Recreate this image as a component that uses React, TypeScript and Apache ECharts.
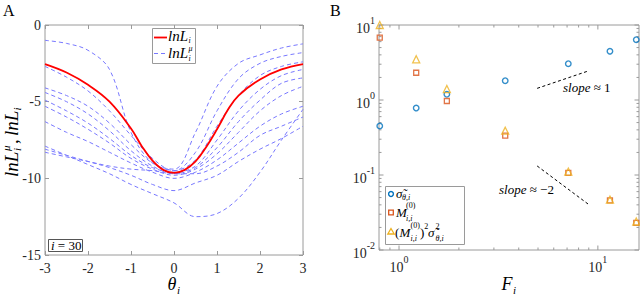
import React, { useEffect, useRef } from 'react';
import * as echarts from 'echarts';

// ---------- Panel A data ----------
const THETA = [-3, -2.5, -2, -1.5, -1, -0.5, 0, 0.5, 1, 1.5, 2, 2.5, 3];
const THETA_FINE = [-3, -2.5, -2, -1.5, -1, -0.75, -0.5, -0.25, 0, 0.25, 0.5, 0.75, 1, 1.25, 1.5, 2, 2.5, 3];
const LN_L = [-2.55, -3.1, -3.9, -5.0, -6.75, -7.9, -8.85, -9.45, -9.65, -9.45, -8.9, -7.95, -6.8, -5.55, -4.6, -3.55, -2.9, -2.55];
const LN_L_MU = [
  [-1.0, -1.2, -1.65, -2.9, -7.0, -9.0, -9.4, -7.0, -4.0, -2.5, -1.95, -1.5, -1.23],
  [-2.7, -3.4, -4.3, -5.6, -7.2, -8.7, -9.5, -8.8, -6.6, -4.6, -3.3, -2.7, -2.4],
  [-4.1, -4.6, -5.3, -6.4, -7.8, -9.0, -9.5, -8.3, -5.6, -3.5, -2.5, -2.05, -1.8],
  [-4.4, -5.0, -5.8, -6.9, -8.2, -9.2, -9.7, -9.3, -8.0, -6.3, -4.9, -3.8, -3.45],
  [-4.9, -5.6, -6.4, -7.4, -8.5, -9.3, -9.6, -9.2, -7.5, -5.6, -4.2, -3.3, -2.9],
  [-5.3, -6.0, -6.8, -7.7, -8.7, -9.4, -9.8, -9.4, -8.4, -7.0, -5.6, -4.6, -4.0],
  [-6.3, -7.0, -7.6, -8.3, -9.0, -9.6, -10.0, -9.6, -8.8, -7.7, -6.6, -5.8, -5.3],
  [-7.9, -8.5, -9.1, -9.7, -10.4, -11.0, -11.6, -12.5, -12.3, -11.3, -9.6, -7.5, -5.5],
  [-8.1, -8.5, -8.9, -9.3, -9.8, -10.4, -10.8, -10.3, -9.8, -8.9, -8.1, -7.4, -6.6],
  [-8.3, -8.6, -8.9, -9.2, -9.4, -9.5, -9.7, -9.7, -9.2, -8.3, -7.2, -6.6, -6.0],
];

// ---------- Panel B data ----------
const F = [0.8, 1.22, 1.74, 3.42, 7.1, 11.5, 15.6];
const SIGMA = [0.45, 0.78, 1.19, 1.81, 3.05, 4.46, 6.37];
const M00 = [6.78, 2.31, 0.97, 0.334, 0.107, 0.046, 0.023];
const PROD = [10, 3.49, 1.4, 0.39, 0.111, 0.047, 0.024];
const SLOPE1 = [[4.95, 1.43], [9.04, 2.46]];
const SLOPE2 = [[4.95, 0.132], [9.04, 0.04]];

const X_MIN = 0.793;
const X_MAX = 16.1;
const Y_MIN = 0.01;
const Y_MAX = 10;
const X_MAJOR = [1, 10];
const X_MINOR = [0.8, 0.9, 2, 3, 4, 5, 6, 7, 8, 9];
const Y_MAJOR = [0.01, 0.1, 1, 10];
const Y_MINOR = [0.02, 0.03, 0.04, 0.05, 0.06, 0.07, 0.08, 0.09, 0.2, 0.3, 0.4, 0.5, 0.6, 0.7, 0.8, 0.9, 2, 3, 4, 5, 6, 7, 8, 9];

const SERIF = 'Liberation Serif';
const AX = '#9a9a9a';
const TXT = '#262626';
const BLUE = '#7878ff';
const C1 = '#0072BD';
const C2 = '#D95319';
const C3 = '#EDB120';

const txt = (x: number, y: number, text: string, size: number, italic = false, extra: any = {}) => ({
  type: 'text',
  x,
  y,
  silent: true,
  style: {
    text,
    fontSize: size,
    fontFamily: SERIF,
    fontStyle: italic ? 'italic' : 'normal',
    fill: '#000',
    align: 'left',
    verticalAlign: 'middle',
    ...extra,
  },
});

const logFormatter = (v: number) => {
  const l = Math.log10(v);
  const e = Math.round(l);
  if (Math.abs(l - e) > 1e-6) return '';
  return `{b|10}{s|${e}}`;
};
const logRich = {
  b: { fontSize: 14, fontFamily: SERIF, color: TXT, lineHeight: 20, verticalAlign: 'bottom' },
  s: { fontSize: 10, fontFamily: SERIF, color: TXT, lineHeight: 12, verticalAlign: 'top' },
};

export default function App() {
  const ref = useRef<HTMLDivElement>(null);
  useEffect(() => {
    if (!ref.current) return;
    const chart = echarts.init(ref.current, undefined, { renderer: 'svg' });

    const linTick = { inside: true, length: 4, lineStyle: { color: AX } };
    const noLine = { show: false, onZero: false };
    const lab = { fontSize: 14, fontFamily: SERIF, color: TXT };

    const tickData = [
      ...X_MAJOR.map((v) => [v, Y_MIN, 1]),
      ...X_MINOR.map((v) => [v, Y_MIN, 0]),
    ];
    const yTickData = [
      ...Y_MAJOR.map((v) => [X_MIN, v, 1]),
      ...Y_MINOR.map((v) => [X_MIN, v, 0]),
    ];
    const scriptRich = (size: number) => ({
      it: { fontSize: size, fontFamily: SERIF, fontStyle: 'italic', fill: '#000' },
    });

    const option: any = {
      animation: false,
      backgroundColor: '#fff',
      textStyle: { fontFamily: SERIF },
      grid: [
        { left: 45, top: 25, width: 258, height: 230, show: true, borderColor: AX, borderWidth: 1 },
        { left: 379, top: 25, width: 260, height: 225, show: true, borderColor: AX, borderWidth: 1 },
      ],
      xAxis: [
        {
          gridIndex: 0, type: 'value', min: -3, max: 3, interval: 1,
          axisLine: noLine, axisTick: linTick, splitLine: { show: false },
          axisLabel: { ...lab, margin: 6 },
        },
        {
          gridIndex: 0, type: 'value', position: 'top', min: -3, max: 3, interval: 1,
          axisLine: noLine, axisTick: linTick, splitLine: { show: false },
          axisLabel: { show: false },
        },
        {
          gridIndex: 1, type: 'log', logBase: 10, min: X_MIN, max: X_MAX,
          axisLine: noLine, axisTick: { show: false }, splitLine: { show: false },
          axisLabel: { formatter: logFormatter, rich: logRich, margin: 4, showMinLabel: false, showMaxLabel: false },
        },
      ],
      yAxis: [
        {
          gridIndex: 0, type: 'value', min: -15, max: 0, interval: 5,
          axisLine: noLine, axisTick: linTick, splitLine: { show: false },
          axisLabel: { ...lab, margin: 4 },
        },
        {
          gridIndex: 0, type: 'value', position: 'right', min: -15, max: 0, interval: 5,
          axisLine: noLine, axisTick: linTick, splitLine: { show: false },
          axisLabel: { show: false },
        },
        {
          gridIndex: 1, type: 'log', logBase: 10, min: Y_MIN, max: Y_MAX,
          axisLine: noLine, axisTick: { show: false }, splitLine: { show: false },
          axisLabel: { formatter: logFormatter, rich: logRich, margin: 4 },
        },
      ],
      series: [
        ...LN_L_MU.map((c) => ({
          type: 'line', xAxisIndex: 0, yAxisIndex: 0, silent: true, z: 2,
          data: THETA.map((t, i) => [t, c[i]]),
          smooth: 0.35, symbol: 'none',
          lineStyle: { color: BLUE, width: 1, type: [4, 3] },
        })),
        {
          type: 'line', xAxisIndex: 0, yAxisIndex: 0, silent: true, z: 3,
          data: THETA_FINE.map((t, i) => [t, LN_L[i]]),
          smooth: 0.4, symbol: 'none',
          lineStyle: { color: '#ff0000', width: 1.8 },
        },
        {
          type: 'custom', xAxisIndex: 2, yAxisIndex: 2, silent: true, clip: false, z: 1,
          data: tickData,
          renderItem: (_p: any, api: any) => {
            const v = api.value(0);
            const len = api.value(2) === 1 ? 4.5 : 2.5;
            const b = api.coord([v, Y_MIN]);
            const t = api.coord([v, Y_MAX]);
            return {
              type: 'group',
              children: [
                { type: 'line', shape: { x1: b[0], y1: b[1], x2: b[0], y2: b[1] - len }, style: { stroke: AX, lineWidth: 1 } },
                { type: 'line', shape: { x1: t[0], y1: t[1], x2: t[0], y2: t[1] + len }, style: { stroke: AX, lineWidth: 1 } },
              ],
            };
          },
        },
        {
          type: 'custom', xAxisIndex: 2, yAxisIndex: 2, silent: true, clip: false, z: 1,
          data: yTickData,
          renderItem: (_p: any, api: any) => {
            const v = api.value(1);
            const len = api.value(2) === 1 ? 4.5 : 2.5;
            const l = api.coord([X_MIN, v]);
            const r = api.coord([X_MAX, v]);
            return {
              type: 'group',
              children: [
                { type: 'line', shape: { x1: l[0], y1: l[1], x2: l[0] + len, y2: l[1] }, style: { stroke: AX, lineWidth: 1 } },
                { type: 'line', shape: { x1: r[0], y1: r[1], x2: r[0] - len, y2: r[1] }, style: { stroke: AX, lineWidth: 1 } },
              ],
            };
          },
        },
        {
          type: 'line', xAxisIndex: 2, yAxisIndex: 2, silent: true, data: SLOPE1, symbol: 'none',
          lineStyle: { color: '#000', width: 1, type: [3, 2.5] },
        },
        {
          type: 'line', xAxisIndex: 2, yAxisIndex: 2, silent: true, data: SLOPE2, symbol: 'none',
          lineStyle: { color: '#000', width: 1, type: [3, 2.5] },
        },
        {
          type: 'scatter', xAxisIndex: 2, yAxisIndex: 2, clip: false, silent: true,
          data: F.map((f, i) => [f, SIGMA[i]]), symbol: 'circle', symbolSize: 5.5,
          itemStyle: { color: 'rgba(0,0,0,0)', borderColor: C1, borderWidth: 1.4 },
        },
        {
          type: 'scatter', xAxisIndex: 2, yAxisIndex: 2, clip: false, silent: true,
          data: F.map((f, i) => [f, M00[i]]), symbol: 'rect', symbolSize: 5,
          itemStyle: { color: 'rgba(0,0,0,0)', borderColor: C2, borderWidth: 1.3 },
        },
        {
          type: 'scatter', xAxisIndex: 2, yAxisIndex: 2, clip: false, silent: true,
          data: F.map((f, i) => [f, PROD[i]]), symbol: 'triangle', symbolSize: 7,
          itemStyle: { color: 'rgba(0,0,0,0)', borderColor: C3, borderWidth: 1.3 },
        },
      ],
      graphic: [
        // panel letters
        txt(3, 10, 'A', 16),
        txt(330, 10, 'B', 16),
        // y label panel A (rotated)
        {
          type: 'group', x: 17.5, y: 177, rotation: Math.PI / 2, silent: true,
          children: [
            txt(0, -6, 'lnL', 19, true),
            txt(26, -11.5, 'μ', 11, true),
            txt(26, -0.5, 'i', 11, true),
            txt(33, -6, ',', 19, false),
            txt(41, -6, 'lnL', 19, true),
            txt(66.5, -0.5, 'i', 11, true),
          ],
        },
        // x label panel A
        txt(167.5, 284, 'θ', 18, true),
        txt(177, 289.5, 'i', 11, true),
        // x label panel B
        txt(501.5, 284, 'F', 18, true),
        txt(513, 289.5, 'i', 11, true),
        // legend panel A
        { type: 'rect', silent: true, shape: { x: 152.5, y: 28.5, width: 43, height: 35 }, style: { fill: '#fff', stroke: AX, lineWidth: 1 }, z: 10 },
        { type: 'line', silent: true, shape: { x1: 154, y1: 37.5, x2: 167, y2: 37.5 }, style: { stroke: '#ff0000', lineWidth: 1.8 }, z: 11 },
        { type: 'line', silent: true, shape: { x1: 154, y1: 53.5, x2: 167, y2: 53.5 }, style: { stroke: BLUE, lineWidth: 1, lineDash: [4, 3] }, z: 11 },
        { ...txt(168, 36, 'lnL', 15, true), z: 11 },
        { ...txt(188.5, 40.5, 'i', 8, true), z: 11 },
        { ...txt(168, 52.5, 'lnL', 15, true), z: 11 },
        { ...txt(188.5, 48.5, 'μ', 8, true), z: 11 },
        { ...txt(188.5, 58, 'i', 8, true), z: 11 },
        // i = 30 box
        { type: 'rect', silent: true, shape: { x: 48.5, y: 239.5, width: 34, height: 12 }, style: { fill: '#fff', stroke: '#555', lineWidth: 1 }, z: 10 },
        {
          type: 'text', x: 51, y: 245.5, silent: true, z: 11,
          style: {
            text: '{it|i} = 30', fontSize: 13, fontFamily: SERIF, fill: '#000', verticalAlign: 'middle', align: 'left',
            rich: scriptRich(13),
          },
        },
        // slope labels
        {
          type: 'text', x: 563, y: 87, silent: true,
          style: {
            text: '{it|slope} ≈ 1', fontSize: 13, fontFamily: SERIF, fill: '#000', verticalAlign: 'middle', align: 'left',
            rich: scriptRich(13),
          },
        },
        {
          type: 'text', x: 499, y: 189, silent: true,
          style: {
            text: '{it|slope} ≈ −2', fontSize: 13, fontFamily: SERIF, fill: '#000', verticalAlign: 'middle', align: 'left',
            rich: scriptRich(13),
          },
        },
        // legend panel B
        { type: 'rect', silent: true, shape: { x: 385.5, y: 186.5, width: 79, height: 58 }, style: { fill: '#fff', stroke: AX, lineWidth: 1 }, z: 10 },
        { type: 'circle', silent: true, shape: { cx: 391, cy: 194, r: 2.4 }, style: { fill: 'none', stroke: C1, lineWidth: 1.4 }, z: 11 },
        { type: 'rect', silent: true, shape: { x: 388.7, y: 210.2, width: 4.6, height: 4.6 }, style: { fill: 'none', stroke: C2, lineWidth: 1.3 }, z: 11 },
        { type: 'polygon', silent: true, shape: { points: [[391, 228.5], [394.2, 234], [387.8, 234]] }, style: { fill: 'none', stroke: C3, lineWidth: 1.3 }, z: 11 },
        { ...txt(396, 193, 'σ\u0303', 13, true), z: 11 },
        { ...txt(402, 197.5, 'θ,i', 8, true), z: 11 },
        { ...txt(396, 212, 'M', 13, true), z: 11 },
        { ...txt(406, 205, '(0)', 8, false), z: 11 },
        { ...txt(406, 218, 'i,i', 8, true), z: 11 },
        { ...txt(395, 232, '(', 13, false), z: 11 },
        { ...txt(399.5, 232, 'M', 13, true), z: 11 },
        { ...txt(410.5, 225.5, '(0)', 8, false), z: 11 },
        { ...txt(410.5, 238.5, 'i,i', 8, true), z: 11 },
        { ...txt(420, 232, ')', 13, false), z: 11 },
        { ...txt(424.3, 226.5, '2', 8, false), z: 11 },
        { ...txt(428, 232, 'σ\u0303', 13, true), z: 11 },
        { ...txt(435.5, 226.5, '2', 8, false), z: 11 },
        { ...txt(435.5, 238.5, 'θ,i', 8, true), z: 11 },
      ],
    };

    chart.setOption(option);
    return () => chart.dispose();
  }, []);

  return (
    <div
      ref={ref}
      style={{ position: 'fixed', left: 0, top: 0, width: 640, height: 294, background: '#fff' }}
    />
  );
}
